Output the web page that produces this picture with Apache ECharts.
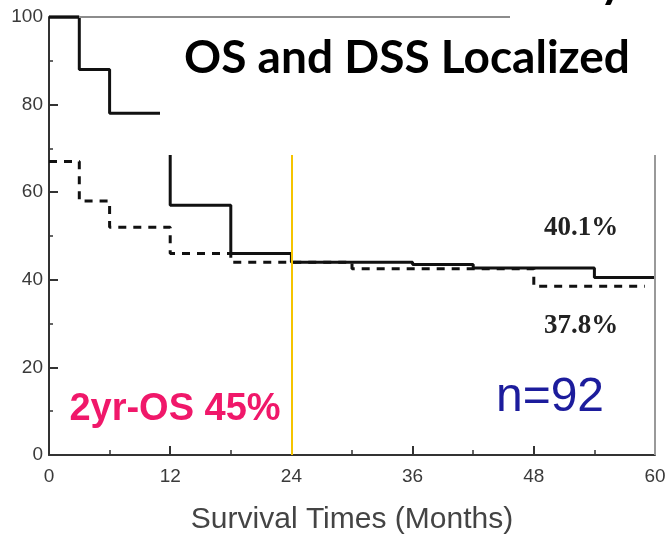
<!DOCTYPE html>
<html>
<head>
<meta charset="utf-8">
<script src="https://cdn.jsdelivr.net/npm/echarts@6/dist/echarts.min.js"></script>
<style>html,body{margin:0;padding:0;background:#fff}#c{width:669px;height:536px}</style>
</head>
<body>
<div id="c"></div>
<script>
// Overall survival (solid) — step points [month, %]
var osTimes  = [0, 3, 6, 12, 18, 24, 36, 42, 54, 60];
var osValues = [100, 88, 78, 57, 46, 44, 43.5, 42.7, 40.5, 40.5];
// Disease-specific survival (dashed)
var dssTimes  = [0, 3, 6, 12, 18, 30, 48, 59];
var dssValues = [67, 58, 52, 46, 44, 42.5, 38.5, 38.5];
var xTicks = [0, 12, 24, 36, 48, 60];
var yTicks = [0, 20, 40, 60, 80, 100];
var markMonth = 24;
var titleText = 'OS and DSS Localized';
var xName = 'Survival Times (Months)';
var osEndLabel = '40.1%';
var dssEndLabel = '37.8%';
var nLabel = 'n=92';
var osLabel = '2yr-OS 45%';

function pairs(t, v){ return t.map(function(x,i){ return [x, v[i]]; }); }

var chart = echarts.init(document.getElementById('c'), null, {renderer:'canvas', width:669, height:536});
var axisFont = {fontFamily:'Liberation Sans, Arial', fontSize:19, color:'#3a3a3a'};
chart.setOption({
  animation:false,
  backgroundColor:'#fff',
  grid:{left:49, right:14, top:17, bottom:81, containLabel:false, outerBoundsMode:'none'},
  xAxis:{
    type:'value', min:xTicks[0], max:xTicks[xTicks.length-1], interval:12,
    name:xName, nameLocation:'middle', nameGap:50,
    nameTextStyle:{fontFamily:'Liberation Sans, Arial', fontSize:30, color:'#444'},
    axisLine:{lineStyle:{color:'#333', width:2}},
    axisTick:{inside:true, length:9, lineStyle:{color:'#333', width:2}},
    minorTick:{show:true, splitNumber:2, length:5, lineStyle:{color:'#333', width:1.5}},
    splitLine:{show:false},
    axisLabel:Object.assign({margin:12}, axisFont)
  },
  yAxis:{
    type:'value', min:yTicks[0], max:yTicks[yTicks.length-1], interval:20,
    axisLine:{show:true, lineStyle:{color:'#333', width:2}},
    axisTick:{show:true, inside:true, length:9, lineStyle:{color:'#333', width:2}},
    minorTick:{show:true, splitNumber:2, length:4, lineStyle:{color:'#333', width:1.5}},
    splitLine:{show:false},
    axisLabel:Object.assign({margin:6}, axisFont)
  },
  series:[
    {
      type:'line', step:'end', data:pairs(dssTimes, dssValues), symbol:'none', z:3,
      lineStyle:{color:'#111', width:3, type:[8,7]}
    },
    {
      type:'line', step:'end', data:pairs(osTimes, osValues), symbol:'none', z:4,
      lineStyle:{color:'#111', width:3},
      markLine:{
        silent:true, symbol:'none', label:{show:false},
        lineStyle:{color:'#f5c400', width:2, type:'solid'},
        data:[{xAxis:markMonth}]
      }
    }
  ],
  graphic:[
    {type:'rect', z:100, shape:{x:160, y:16, width:509, height:139}, style:{fill:'#fff'}},
    {type:'line', z:120, shape:{x1:49, y1:17, x2:510, y2:17}, style:{stroke:'#8c8c8c', lineWidth:2}},
    {type:'line', z:120, shape:{x1:49, y1:17, x2:79, y2:17}, style:{stroke:'#111', lineWidth:3}},
    {type:'line', z:50, shape:{x1:655, y1:155, x2:655, y2:455}, style:{stroke:'#999', lineWidth:2}},
    {type:'text', z:110, style:{text:titleText, x:407, y:58, align:'center', verticalAlign:'middle',
      fontFamily:'Lato', fontWeight:'bold', fontSize:46, fill:'#000'}},
    {type:'text', z:110, style:{text:'y', x:612, y:5, align:'center', verticalAlign:'bottom',
      fontFamily:'Lato', fontWeight:'bold', fontSize:46, fill:'#000'}},
    {type:'text', z:110, style:{text:osEndLabel, x:581, y:228, align:'center', verticalAlign:'middle',
      fontFamily:'Liberation Serif', fontWeight:'bold', fontSize:27, fill:'#222'}},
    {type:'text', z:110, style:{text:dssEndLabel, x:581, y:326, align:'center', verticalAlign:'middle',
      fontFamily:'Liberation Serif', fontWeight:'bold', fontSize:27, fill:'#222'}},
    {type:'text', z:110, style:{text:nLabel, x:550, y:398, align:'center', verticalAlign:'middle',
      fontFamily:'Liberation Sans', fontSize:48, fill:'#1c1c9c'}},
    {type:'text', z:110, style:{text:osLabel, x:175, y:410, align:'center', verticalAlign:'middle',
      fontFamily:'Liberation Sans', fontWeight:'bold', fontSize:38, fill:'#f0186a'}}
  ]
});
</script>
</body>
</html>
